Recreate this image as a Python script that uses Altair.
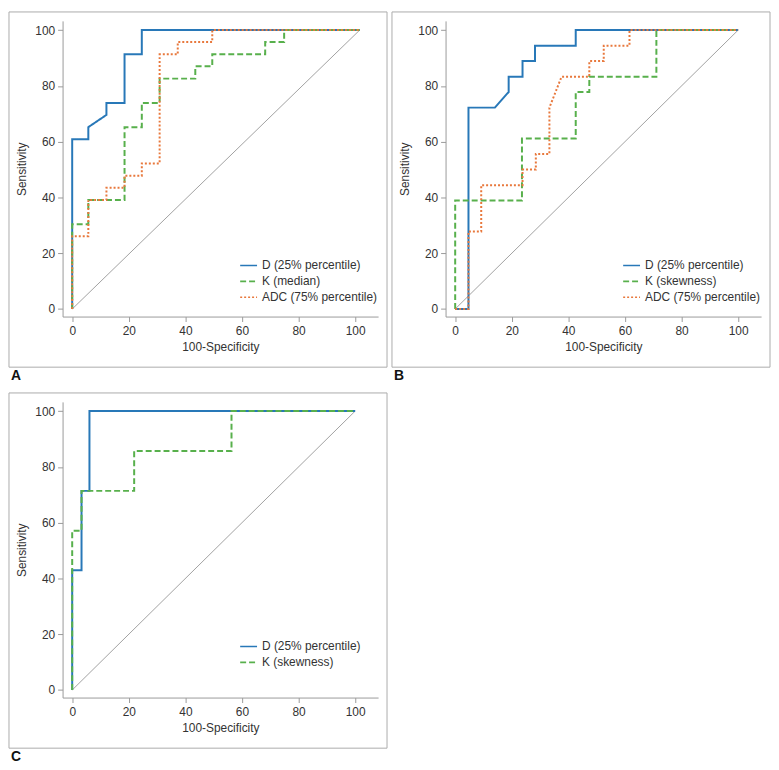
import altair as alt
import pandas as pd

# ---------------- data ----------------
TICKS = [0, 20, 40, 60, 80, 100]

A_NAMES = ["D (25% percentile)", "K (median)", "ADC (75% percentile)"]
A_D_x = [0, 0, 5.7, 5.7, 12.1, 12.1, 18.5, 18.5, 24.6, 24.6, 101.6]
A_D_y = [0, 60.9, 60.9, 65.2, 69.6, 73.9, 73.9, 91.3, 91.3, 100, 100]
A_K_x = [0, 0, 5.7, 5.7, 18.5, 18.5, 24.6, 24.6, 30.9, 30.9, 43.5, 43.5, 49.5, 49.5, 68.2, 68.2, 74.9, 74.9, 101.6]
A_K_y = [0, 30.4, 30.4, 39.1, 39.1, 65.2, 65.2, 73.9, 73.9, 82.6, 82.6, 87.0, 87.0, 91.3, 91.3, 95.7, 95.7, 100, 100]
A_ADC_x = [0, 0, 5.7, 5.7, 12.1, 12.1, 18.5, 18.5, 24.6, 24.6, 30.9, 30.9, 37.3, 37.3, 49.5, 49.5, 101.6]
A_ADC_y = [0, 26.1, 26.1, 39.1, 39.1, 43.5, 43.5, 47.8, 47.8, 52.2, 52.2, 91.3, 91.3, 95.7, 95.7, 100, 100]
A_DIAG_x = [0, 101.6]

B_NAMES = ["D (25% percentile)", "K (skewness)", "ADC (75% percentile)"]
B_D_x = [0, 4.7, 4.7, 14.0, 18.9, 18.9, 23.8, 23.8, 28.2, 28.2, 42.6, 42.6, 100]
B_D_y = [0, 0, 72.2, 72.2, 77.8, 83.3, 83.3, 88.9, 88.9, 94.4, 94.4, 100, 100]
B_K_x = [0, 0, 23.6, 23.6, 42.6, 42.6, 47.4, 47.4, 71.1, 71.1, 100]
B_K_y = [0, 38.9, 38.9, 61.1, 61.1, 77.8, 77.8, 83.3, 83.3, 100, 100]
B_ADC_x = [0, 4.7, 4.7, 9.2, 9.2, 23.8, 23.8, 28.5, 28.5, 33.3, 33.3, 37.6, 47.4, 47.4, 52.5, 52.5, 61.6, 61.6, 100]
B_ADC_y = [0, 0, 27.8, 27.8, 44.4, 44.4, 50.0, 50.0, 55.6, 55.6, 72.2, 83.3, 83.3, 88.9, 88.9, 94.4, 94.4, 100, 100]
B_DIAG_x = [0, 100]

C_NAMES = ["D (25% percentile)", "K (skewness)"]
C_D_x = [0, 0, 3.3, 3.3, 6.1, 6.1, 100]
C_D_y = [0, 42.9, 42.9, 71.4, 71.4, 100, 100]
C_K_x = [0, 0, 3.3, 3.3, 21.9, 21.9, 56.3, 56.3, 100]
C_K_y = [0, 57.1, 57.1, 71.4, 71.4, 85.7, 85.7, 100, 100]
C_DIAG_x = [0, 100]
DIAG_y = [0, 100]

# ---------------- styling ----------------
FONT = "Liberation Sans"
COLORS = ["#2878b8", "#58b04c", "#e8783c"]
DASHES = [[1, 0], [6, 3], [2, 2]]
W, H = 318, 298
XDOM = [-3.4, 108.1]
YDOM = [-2.7, 103.3]


def panel(names, curves, diag_x, label):
    rows = []
    for name, (xs, ys) in zip(names, curves):
        for i, (x, y) in enumerate(zip(xs, ys)):
            rows.append({"series": name, "fpr": x, "tpr": y, "i": i})
    df = pd.DataFrame(rows)
    n = len(names)

    xscale = alt.Scale(domain=XDOM, nice=False, zero=False)
    yscale = alt.Scale(domain=YDOM, nice=False, zero=False)
    xaxis = alt.Axis(values=TICKS, title="100-Specificity", labelPadding=4,
                     titlePadding=5)
    yaxis = alt.Axis(values=TICKS, title="Sensitivity", labelPadding=3,
                     titlePadding=6)

    leg = alt.Legend(title=None, orient="none", legendX=178, legendY=237,
                     symbolType="stroke", symbolSize=289, symbolStrokeWidth=1.6,
                     labelFont=FONT, labelFontSize=12, labelColor="#333",
                     labelOffset=4, rowPadding=-2.5)

    box = alt.Chart(pd.DataFrame({"a": [0]})).mark_rect(
        fill="white", fillOpacity=0, stroke="#ababab", strokeWidth=1
    ).encode(x=alt.value(-54), x2=alt.value(W + 9),
             y=alt.value(-9), y2=alt.value(H + 51))

    diag = alt.Chart(pd.DataFrame({"fpr": diag_x, "tpr": DIAG_y})).mark_line(
        color="#8a8a8a", strokeWidth=0.8
    ).encode(x=alt.X("fpr:Q", scale=xscale, axis=xaxis),
             y=alt.Y("tpr:Q", scale=yscale, axis=yaxis))

    lines = alt.Chart(df).mark_line(strokeWidth=2).encode(
        x=alt.X("fpr:Q", scale=xscale, axis=xaxis),
        y=alt.Y("tpr:Q", scale=yscale, axis=yaxis),
        color=alt.Color("series:N", scale=alt.Scale(domain=names, range=COLORS[:n]),
                        legend=leg),
        strokeDash=alt.StrokeDash("series:N",
                                  scale=alt.Scale(domain=names, range=DASHES[:n]),
                                  legend=leg),
        order=alt.Order("i:Q"),
    )

    lab = alt.Chart(pd.DataFrame({"a": [0]})).mark_text(
        text=label, font=FONT, fontSize=14, fontWeight="bold", align="left",
        baseline="alphabetic", color="#111"
    ).encode(x=alt.value(-52), y=alt.value(H + 64))

    return alt.layer(box, diag, lines, lab).properties(width=W, height=H)


pA = panel(A_NAMES, [(A_D_x, A_D_y), (A_K_x, A_K_y), (A_ADC_x, A_ADC_y)], A_DIAG_x, "A")
pB = panel(B_NAMES, [(B_D_x, B_D_y), (B_K_x, B_K_y), (B_ADC_x, B_ADC_y)], B_DIAG_x, "B")
pC = panel(C_NAMES, [(C_D_x, C_D_y), (C_K_x, C_K_y)], C_DIAG_x, "C")

chart = alt.concat(pA, pB, pC, columns=2, bounds="flush",
                   spacing={"row": 86, "column": 68}).resolve_scale(
    color="independent", strokeDash="independent", x="independent", y="independent"
).properties(padding=0).configure_view(strokeWidth=0).configure_axis(
    grid=False, domainColor="#9a9a9a", tickColor="#9a9a9a", tickSize=5,
    labelColor="#333", titleColor="#333", labelFont=FONT, titleFont=FONT,
    labelFontSize=12, titleFontSize=12, titleFontWeight="normal"
)

chart.save("out.html", embed_options={"renderer": "svg", "actions": False})
